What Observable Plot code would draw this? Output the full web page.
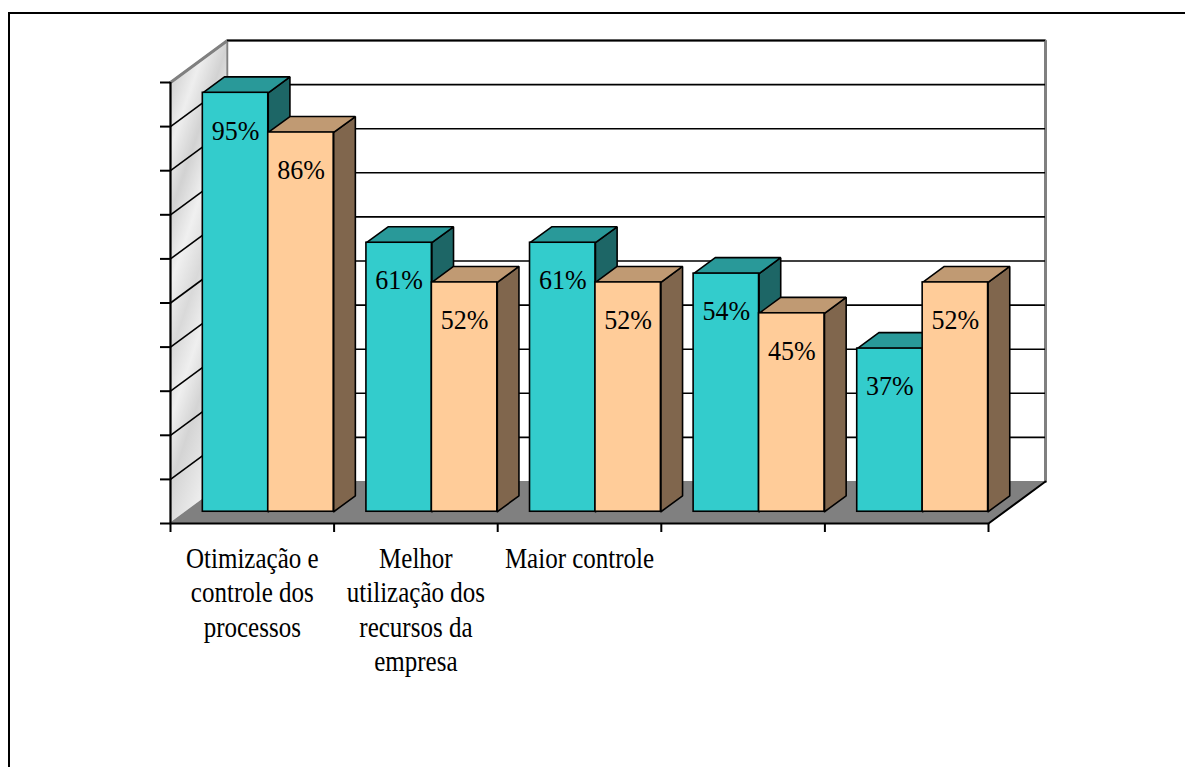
<!DOCTYPE html>
<html>
<head>
<meta charset="utf-8">
<script src="https://cdn.jsdelivr.net/npm/d3@7"></script>
<script src="https://cdn.jsdelivr.net/npm/@observablehq/plot@0.6"></script>
<style>
  html, body { margin: 0; padding: 0; background: #fff; overflow: hidden; }
  #frame { position: absolute; left: 8px; top: 12px; width: 3000px; height: 3000px;
           border-left: 2px solid #000; border-top: 2px solid #000; box-sizing: border-box; }
  #chart { position: absolute; left: 0; top: 0; }
  #chart svg text { font-family: "Liberation Serif", "Times New Roman", serif; }
</style>
</head>
<body>
<div id="frame"></div>
<div id="chart"></div>
<script>
// ---- data ----
const categories = [
  "Otimização e\ncontrole dos\nprocessos",
  "Melhor\nutilização dos\nrecursos da\nempresa",
  "Maior controle",
  "",
  ""
];
const serieA = [95, 61, 61, 54, 37];   // turquoise
const serieB = [86, 52, 52, 45, 52];   // peach
const yTicks = [0, 10, 20, 30, 40, 50, 60, 70, 80, 90, 100];

// ---- 3D oblique projection in data units ----
const KX = 57 / 163.6;   // x-units shift per unit depth
const KY = 42 / 4.41;    // value-units shift per unit depth
const Z0 = 0.28, Z1 = 0.66;
const P = (x, v, z) => ({x: x + z * KX, y: v + z * KY});
const FONT = "Liberation Serif";
const CAT_STRETCH = 1.15, VAL_STRETCH = 1.05;

const colors = [
  {front: "#33CCCC", top: "#299999", side: "#1D6666"},
  {front: "#FFCC99", top: "#C09A73", side: "#80664D"}
];

const bars = [];
categories.forEach((c, i) => {
  [serieA[i], serieB[i]].forEach((v, s) => {
    const x0 = i + 0.1 + 0.4 * s, x1 = x0 + 0.4;
    bars.push({i, s, v, x0, x1});
  });
});

function polys(kind, s) {
  const pts = [];
  bars.filter(b => b.s === s).forEach((b, k) => {
    const id = kind + s + "-" + k;
    let q;
    if (kind === "top") q = [P(b.x0, b.v, Z0), P(b.x1, b.v, Z0), P(b.x1, b.v, Z1), P(b.x0, b.v, Z1)];
    else q = [P(b.x1, 0, Z0), P(b.x1, b.v, Z0), P(b.x1, b.v, Z1), P(b.x1, 0, Z1)];
    q.push(q[0]);
    q.forEach(p => pts.push({id, x: p.x, y: p.y}));
  });
  return pts;
}

const leftWall = [P(0, 0, 0), P(0, 100, 0), P(0, 100, 1), P(0, 0, 1), P(0, 0, 0)];
const floor = [P(0, 0, 0), P(5, 0, 0), P(5, 0, 1), P(0, 0, 1), P(0, 0, 0)];
const wallBorder = [P(0, 100, 0), P(0, 100, 1), P(5, 100, 1), P(5, 0, 1)];
const floorEdge = [P(0, 0, 0), P(5, 0, 0), P(5, 0, 1)];
const gridVals = yTicks.filter(v => v > 0);

const stroke = "#000", sw = 1.6;
const barMarks = [];
for (const s of [0, 1]) barMarks.push(Plot.line(polys("side", s), {x: "x", y: "y", z: "id", fill: colors[s].side, stroke, strokeWidth: sw, strokeLinejoin: "miter", curve: "linear"}));
for (const s of [0, 1]) barMarks.push(Plot.line(polys("top", s), {x: "x", y: "y", z: "id", fill: colors[s].top, stroke, strokeWidth: sw, strokeLinejoin: "miter", curve: "linear"}));
for (const s of [0, 1]) barMarks.push(Plot.rect(bars.filter(b => b.s === s), {
  x1: b => b.x0 + Z0 * KX, x2: b => b.x1 + Z0 * KX, y1: Z0 * KY, y2: b => b.v + Z0 * KY,
  fill: colors[s].front, stroke, strokeWidth: sw
}));

const plot = Plot.plot({
  width: 1185,
  height: 767,
  marginLeft: 170,
  marginRight: 197,
  marginTop: 82,
  marginBottom: 244,
  x: {domain: [0, 5]},
  y: {domain: [0, 100]},
  style: {fontFamily: FONT, background: "transparent", overflow: "visible"},
  marks: [
    // left wall
    Plot.line(leftWall, {x: "x", y: "y", fill: "url(#marble)", stroke: "#808080", strokeWidth: 2, curve: "linear"}),
    // back wall
    Plot.rect([0], {x1: KX, x2: 5 + KX, y1: KY, y2: 100 + KY, fill: "#fff"}),
    // floor
    Plot.line(floor, {x: "x", y: "y", fill: "#808080", stroke: "#808080", strokeWidth: 1, curve: "linear"}),
    // wall borders
    Plot.line(wallBorder, {x: "x", y: "y", stroke: "#808080", strokeWidth: 3, strokeLinejoin: "miter", curve: "linear"}),
    Plot.ruleX([KX], {y1: KY, y2: 100 + KY, stroke: "#808080", strokeWidth: 1.5}),
    // gridlines on back wall
    Plot.ruleY(gridVals, {y: v => v + KY, x1: KX, x2: 5 + KX, stroke: "#000", strokeWidth: 1.6}),
    // gridlines on left wall
    Plot.link(gridVals.filter(v => v < 100), {x1: 0, y1: v => v, x2: KX, y2: v => v + KY, stroke: "#000", strokeWidth: 1.6}),
    // floor edges
    Plot.line(floorEdge, {x: "x", y: "y", stroke: "#000", strokeWidth: 2, strokeLinejoin: "miter", curve: "linear"}),
    // left axis line
    Plot.ruleX([0], {y1: 0, y2: 100, stroke: "#000", strokeWidth: 2}),
    Plot.axisY({ticks: yTicks, tickSize: 10, tickFormat: () => "", label: null, stroke: "#000", strokeWidth: 2}),
    Plot.axisX({ticks: [0, 1, 2, 3, 4, 5], tickSize: 9, tickFormat: () => "", label: null, stroke: "#000", strokeWidth: 2}),
    ...barMarks,
    // value labels
    Plot.text(bars, {
      x: b => (b.x0 + b.x1) / 2 + Z0 * KX, y: b => b.v + Z0 * KY,
      text: b => b.v + "%", dy: 38, fontSize: 26, fontFamily: FONT, fill: "#000"
    }),
    // category labels
    Plot.text(categories, {
      x: (d, i) => i + 0.5, y: 0, text: d => d, dy: 20, lineAnchor: "top",
      lineHeight: 34.4 / (25 * CAT_STRETCH), fontSize: 25, fontFamily: FONT, fill: "#000"
    })
  ]
});

document.getElementById("chart").appendChild(plot);

// slightly taller glyphs, as in the reference: wrap each label in a vertical scale about its anchor
const ns = "http://www.w3.org/2000/svg";
Array.from(plot.querySelectorAll("text")).forEach(t => {
  const content = t.textContent || "";
  if (!content) return;
  const k = /%$/.test(content) ? VAL_STRETCH : CAT_STRETCH;
  let Y = 0;
  const tr = t.getAttribute("transform");
  const m = tr && tr.match(/translate\(\s*([-\d.e]+)[ ,]+([-\d.e]+)/);
  if (m) Y = +m[2];
  else if (t.getAttribute("y")) Y = parseFloat(t.getAttribute("y"));
  const g = document.createElementNS(ns, "g");
  g.setAttribute("transform", `translate(0,${Y}) scale(1,${k}) translate(0,${-Y})`);
  t.parentNode.insertBefore(g, t);
  g.appendChild(t);
});

// marble-like gradient for the side wall
const defs = document.createElementNS(ns, "defs");
const grad = document.createElementNS(ns, "linearGradient");
grad.setAttribute("id", "marble");
grad.setAttribute("x1", "0"); grad.setAttribute("y1", "0");
grad.setAttribute("x2", "0.35"); grad.setAttribute("y2", "1");
[["0", "#f3f3f3"], ["0.1", "#d7d7d7"], ["0.2", "#eeeeee"], ["0.32", "#d2d2d2"], ["0.45", "#f0f0f0"],
 ["0.58", "#d9d9d9"], ["0.7", "#efefef"], ["0.82", "#d4d4d4"], ["1", "#ececec"]].forEach(([o, c]) => {
  const st = document.createElementNS(ns, "stop");
  st.setAttribute("offset", o); st.setAttribute("stop-color", c);
  grad.appendChild(st);
});
defs.appendChild(grad);
plot.insertBefore(defs, plot.firstChild);
</script>
</body>
</html>
